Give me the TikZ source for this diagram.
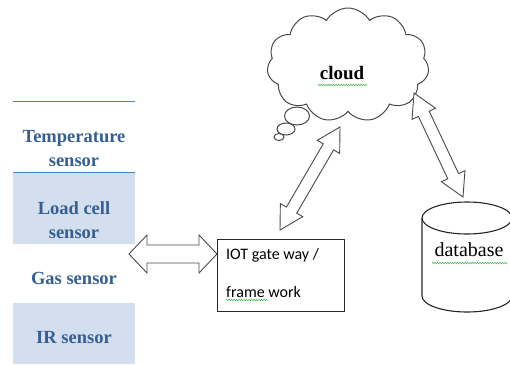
\documentclass[tikz,border=0pt]{standalone}
\usepackage{fontspec}
\setmainfont{Liberation Serif}
\newfontfamily\calibri{Carlito}
\usetikzlibrary{calc,shapes.symbols,decorations.pathmorphing}
\definecolor{shadecol}{HTML}{D3DFEE}
\definecolor{rulecol}{HTML}{4F81BD}
\definecolor{sensorcol}{HTML}{365F91}
\definecolor{edgecol}{HTML}{4A4A4A}
\definecolor{spellcol}{HTML}{3CB043}
\tikzset{
  fatarrowstyle/.style={draw=edgecol, fill=white, line width=0.9pt, line join=miter},
  sensortext/.style={font=\bfseries\fontsize{18.5}{24}\selectfont, text=sensorcol, align=center, inner sep=0pt},
  rulestyle/.style={draw=rulecol, line width=1pt},
  shadestyle/.style={fill=shadecol},
  gwtext/.style={font=\calibri\fontsize{16}{19}\selectfont, anchor=west, inner sep=0pt},
  bubble/.style={draw=edgecol, fill=white, line width=1pt},
  spellline/.style={draw=spellcol, line width=0.5pt, decorate, decoration={zigzag, segment length=2.5pt, amplitude=0.8pt}},
  dbstyle/.style={draw=black!85, line width=1.1pt, fill=white}
}
\newcommand{\fatarrow}[5]{%
  \coordinate (fa1) at ($(#1)!#5!(#2)$);
  \coordinate (fa2) at ($(#2)!#5!(#1)$);
  \draw[fatarrowstyle] (#1) -- ($(fa1)!#4!90:(#2)$) -- ($(fa1)!#3!90:(#2)$)
    -- ($(fa2)!#3!-90:(#1)$) -- ($(fa2)!#4!-90:(#1)$) -- (#2)
    -- ($(fa2)!#4!90:(#1)$) -- ($(fa2)!#3!90:(#1)$)
    -- ($(fa1)!#3!-90:(#2)$) -- ($(fa1)!#4!-90:(#2)$) -- cycle;}
\begin{document}
\begin{tikzpicture}[x=1pt,y=-1pt]
\useasboundingbox (0,0) rectangle (510,364);
% sensor table
\fill[shadestyle] (13,172) rectangle (135,244);
\fill[shadestyle] (13,303) rectangle (135,364);
\draw[rulestyle] (13,101) -- (135,101);
\draw[rulestyle] (13,172) -- (135,172);
\node[sensortext] (temp) at (74,149) {Temperature\\sensor};
\node[sensortext] (load) at (74,220) {Load cell\\sensor};
\node[sensortext] (gas) at (74,278) {Gas sensor};
\node[sensortext] (ir) at (74,338) {IR sensor};
% gateway
\node[draw=black!85, line width=1.2pt, minimum width=127pt, minimum height=72pt, anchor=north west, inner sep=0pt] (gw) at (217,239) {};
\node[gwtext] (gw1) at (226,255) {IOT gate way /};
\node[gwtext] (gw2) at (226,292) {frame work};
\draw[spellline] (226,300) -- (268,300);
% cloud
\draw[bubble] (279,137) ellipse [x radius=5pt, y radius=3.5pt];
\draw[bubble] (286,129) ellipse [x radius=9pt, y radius=6pt];
\draw[bubble] (297,116) ellipse [x radius=12.5pt, y radius=9pt];
\node[cloud, draw=edgecol, fill=white, line width=1pt, cloud puffs=11, cloud puff arc=120, aspect=1.45, minimum width=162pt, minimum height=114pt, inner sep=0pt] (cloud) at (348,65) {};
\node[font=\bfseries\fontsize{19}{22}\selectfont, inner sep=0pt] (cloudlbl) at (342,73) {cloud};
\draw[spellline] (318,85) -- (367,85);
% database
\draw[dbstyle] (422,218) -- (422,296) arc[start angle=180, end angle=360, x radius=45pt, y radius=16pt] -- (512,218);
\draw[dbstyle] (467,218) ellipse [x radius=45pt, y radius=16pt];
\node[font=\fontsize{20}{24}\selectfont, inner sep=0pt] (db) at (469,250) {database};
\draw[spellline] (432,263) -- (507,263);
% arrow end points
\coordinate (la) at (129,254);
\coordinate (lb) at (217,254);
\coordinate (ca) at (280,230);
\coordinate (cb) at (340,127);
\coordinate (da) at (414,93);
\coordinate (dbend) at (463,197);
\fatarrow{la}{lb}{9pt}{19pt}{18pt}
\fatarrow{ca}{cb}{6pt}{13pt}{23pt}
\fatarrow{da}{dbend}{6pt}{13pt}{23pt}
\end{tikzpicture}
\end{document}
